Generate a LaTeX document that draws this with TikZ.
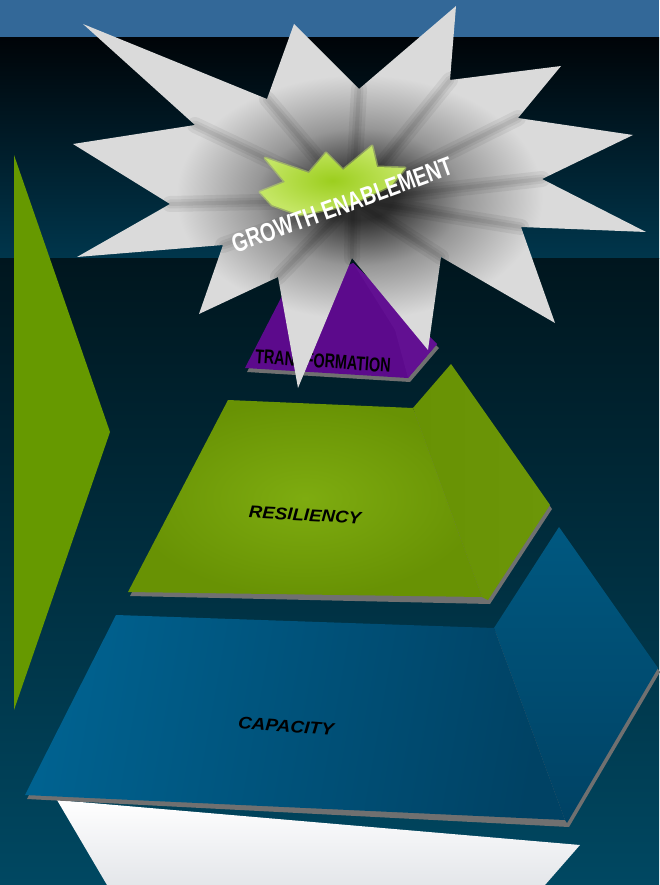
\documentclass[tikz,border=0pt]{standalone}
\usepackage{fontspec}
\setmainfont{Liberation Sans}
\usepackage{xcolor}

\definecolor{topband}{RGB}{51,104,152}
\definecolor{bgblack}{RGB}{0,4,8}
\definecolor{bgteal}{RGB}{0,54,76}
\definecolor{bgdark}{RGB}{0,22,30}
\definecolor{bglow}{RGB}{0,72,98}
\definecolor{leafgreen}{RGB}{102,153,0}
\definecolor{basegray}{RGB}{228,230,234}
\definecolor{shadowgray}{RGB}{112,112,112}
\definecolor{capfront}{RGB}{0,98,144}
\definecolor{capdeep}{RGB}{0,66,100}
\definecolor{capside}{RGB}{0,88,128}
\definecolor{resinner}{RGB}{126,172,16}
\definecolor{resouter}{RGB}{104,146,4}
\definecolor{resside}{RGB}{108,150,8}
\definecolor{transpurple}{RGB}{92,10,140}
\definecolor{transside}{RGB}{98,16,146}
\definecolor{starcore}{RGB}{48,48,48}
\definecolor{starmid}{RGB}{150,150,150}
\definecolor{starrim}{RGB}{218,218,218}
\definecolor{burstin}{RGB}{156,206,30}
\definecolor{burstout}{RGB}{196,230,100}

\pgfdeclareradialshading{starglow}{\pgfpoint{0bp}{0bp}}{color(0bp)=(starcore); color(3bp)=(starcore); color(9bp)=(starmid); color(16bp)=(starrim); color(50bp)=(starrim)}

\newcommand{\starpath}{(83,24) -- (267,99) -- (294,24) -- (359,89) -- (456,6) -- (450,80) -- (561,66) -- (518,118) -- (633,135) -- (542,179) -- (646,232) -- (521,227) -- (555,323) -- (441,257) -- (428,350) -- (352,258) -- (298,388) -- (278,277) -- (199,314) -- (223,245) -- (77,257) -- (170,204) -- (73,144) -- (195,125) -- cycle}

\tikzset{
  tierlabel/.style={text=black, inner sep=0pt},
  crease/.style={black, opacity=0.06, line cap=round},
}

\begin{document}
\begin{tikzpicture}[x=1pt,y=-1pt]
  \useasboundingbox (0,0) rectangle (659,885);
  % background bands
  \fill [topband] (0,0) rectangle (659,38);
  \shade [top color=bgblack, bottom color=bgteal] (0,38) rectangle (659,258);
  \shade [top color=bgdark, bottom color=bglow] (0,258) rectangle (659,885);
  % green arrow at the left
  \fill [leafgreen] (14,155) -- (110,432) -- (14,710) -- cycle;
  % white base
  \shade [top color=white, bottom color=basegray] (57,800) -- (580,845) -- (545,885) -- (107,885) -- cycle;
  % capacity tier
  \fill [shadowgray, shift={(2,4)}] (116,615) -- (494,628) -- (559,527) -- (658,668) -- (567,823) -- (25,795) -- cycle;
  \shade [top color=capside, bottom color=capdeep] (494,628) -- (559,527) -- (658,668) -- (567,823) -- (565,820) -- cycle;
  \shade [left color=capfront, right color=capdeep, shading angle=80] (116,615) -- (494,628) -- (565,820) -- (25,795) -- cycle;
  \node (capacity) [tierlabel, font=\bfseries\itshape\fontsize{17}{17}\selectfont, rotate=-4] at (286,726) {\scalebox{1.12}[1]{CAPACITY}};
  % resiliency tier
  \fill [shadowgray, shift={(2,4)}] (228,400) -- (413,408) -- (451,364) -- (550,505) -- (488,600) -- (128,592) -- cycle;
  \shade [left color=resouter, right color=resside] (413,408) -- (451,364) -- (550,505) -- (488,600) -- (482,597) -- cycle;
  \shade [inner color=resinner, outer color=resouter] (228,400) -- (413,408) -- (482,597) -- (128,592) -- cycle;
  \node (resiliency) [tierlabel, font=\bfseries\itshape\fontsize{17}{17}\selectfont, rotate=-3] at (305,515) {\scalebox{1.1}[1]{RESILIENCY}};
  % transformation tier
  \fill [shadowgray, shift={(2,4)}] (353,263) -- (282,296) -- (245,368) -- (408,378) -- (437,344) -- cycle;
  \fill [transpurple] (353,263) -- (282,296) -- (245,368) -- (408,378) -- (437,344) -- cycle;
  \fill [transside] (353,263) -- (437,344) -- (408,378) -- (395,330) -- cycle;
  \node (transformation) [tierlabel, font=\bfseries\fontsize{20}{20}\selectfont, rotate=-4] at (323,361) {\scalebox{0.72}[1]{TRANSFORMATION}};
  % star burst
  \shade [shading=starglow] \starpath;
  \begin{scope}
    \clip \starpath;
    \draw [crease, line width=16pt] (353,200) -- (267,99) (353,200) -- (359,89) (353,200) -- (450,80) (353,200) -- (518,118) (353,200) -- (542,179) (353,200) -- (521,227) (353,200) -- (441,257) (353,200) -- (352,258) (353,200) -- (278,277) (353,200) -- (223,245) (353,200) -- (170,204) (353,200) -- (195,125);
    \draw [crease, line width=9pt] (353,200) -- (267,99) (353,200) -- (359,89) (353,200) -- (450,80) (353,200) -- (518,118) (353,200) -- (542,179) (353,200) -- (521,227) (353,200) -- (441,257) (353,200) -- (352,258) (353,200) -- (278,277) (353,200) -- (223,245) (353,200) -- (170,204) (353,200) -- (195,125);
    \draw [crease, line width=4pt] (353,200) -- (267,99) (353,200) -- (359,89) (353,200) -- (450,80) (353,200) -- (518,118) (353,200) -- (542,179) (353,200) -- (521,227) (353,200) -- (441,257) (353,200) -- (352,258) (353,200) -- (278,277) (353,200) -- (223,245) (353,200) -- (170,204) (353,200) -- (195,125);
  \end{scope}
  % small green burst
  \draw [burstout, line width=3pt, opacity=0.5, line join=round] (265,158) -- (309,173) -- (326,153) -- (343,170) -- (372,146) -- (377,167) -- (405,168) -- (392,185) -- (350,205) -- (300,215) -- (272,205) -- (260,192) -- (285,182) -- cycle;
  \shade [inner color=burstin, outer color=burstout] (265,158) -- (309,173) -- (326,153) -- (343,170) -- (372,146) -- (377,167) -- (405,168) -- (392,185) -- (350,205) -- (300,215) -- (272,205) -- (260,192) -- (285,182) -- cycle;
  \node (growth) [text=white, font=\bfseries\fontsize{26}{26}\selectfont, inner sep=0pt, rotate=20] at (342,205) {\scalebox{0.76}[1]{GROWTH ENABLEMENT}};
\end{tikzpicture}
\end{document}
